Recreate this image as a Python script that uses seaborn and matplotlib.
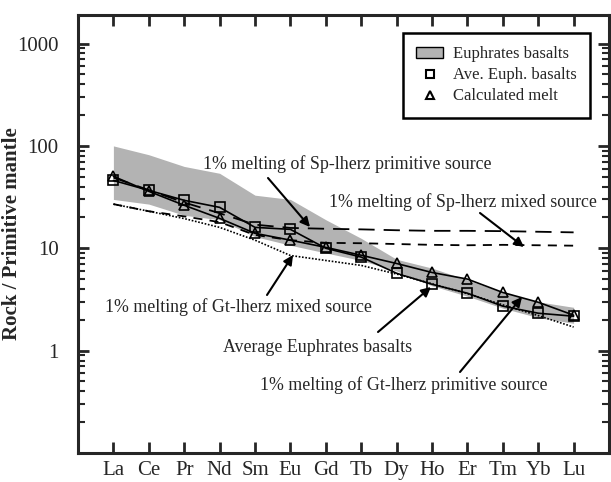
import numpy as np
import pandas as pd
import matplotlib
matplotlib.use("Agg")
import matplotlib.pyplot as plt
from matplotlib.patches import Patch
from matplotlib.lines import Line2D
from matplotlib.ticker import LogLocator, NullFormatter, FixedLocator
import seaborn as sns

elements = ["La", "Ce", "Pr", "Nd", "Sm", "Eu", "Gd", "Tb", "Dy", "Ho", "Er", "Tm", "Yb", "Lu"]
band_upper = [100, 82, 63, 54, 33, 30, 19, 12.5, 7.8, 6.4, 4.9, 3.7, 3.0, 2.65]
band_lower = [30, 27, 21, 19, 13, 10.7, 9.0, 7.6, 6.0, 4.3, 3.4, 2.6, 2.1, 1.85]
ave_euph = [46, 36.8, 29.4, 25.1, 16.0, 15.3, 10.0, 8.2, 5.7, 4.45, 3.64, 2.72, 2.32, 2.17]
calc_melt = [50.4, 36, 26.3, 19.6, 14.0, 12.0, 10.2, 8.55, 7.1, 5.8, 5.0, 3.7, 2.97, 2.22]
sp_prim = [49, 37, 28, 22, 17, 15.8, 15.5, 15.3, 15.0, 14.8, 14.8, 14.7, 14.5, 14.3]
sp_mixed = [27, 23, 20.5, 18, 13.5, 12, 11.3, 11.2, 11.0, 10.8, 10.7, 10.8, 10.7, 10.6]
gt_mixed = [27, 23, 19.5, 16, 12, 8.5, 7.6, 6.8, 5.6, 4.5, 3.6, 2.8, 2.2, 1.7]

sns.set_theme(style="ticks")
plt.rcParams["font.family"] = ["Liberation Serif", "DejaVu Serif"]

x = np.arange(1, len(elements) + 1)

fig = plt.figure(figsize=(6.11, 4.82), dpi=100)
ax = fig.add_axes([78 / 611, 1 - 453 / 482, (609 - 78) / 611, (453 - 15) / 482])

ax.fill_between(x, band_lower, band_upper, color="#b3b3b3", linewidth=0, zorder=1)

sns.lineplot(x=x, y=sp_prim, ax=ax, color="black", linewidth=1.3, zorder=2,
             legend=False).lines[-1].set_dashes([9, 5])
sns.lineplot(x=x, y=sp_mixed, ax=ax, color="black", linewidth=1.3, zorder=2,
             legend=False).lines[-1].set_dashes([5, 4])
sns.lineplot(x=x, y=gt_mixed, ax=ax, color="black", linewidth=1.2, zorder=2,
             legend=False).lines[-1].set_dashes([1, 1])

sns.lineplot(x=x, y=ave_euph, ax=ax, color="black", linewidth=1.2, marker="s", markersize=7,
             markerfacecolor="none", markeredgecolor="black", markeredgewidth=1.2, zorder=3)
sns.lineplot(x=x, y=calc_melt, ax=ax, color="black", linewidth=1.2, marker="^", markersize=7,
             markerfacecolor="none", markeredgecolor="black", markeredgewidth=1.2, zorder=3)

ax.set_yscale("log")
ax.set_ylim(0.1, 1900)
ax.set_xlim(0, 15)
ax.set_xticks(x)
ax.set_xticklabels(elements, fontsize=15)
ax.yaxis.set_major_locator(FixedLocator([1, 10, 100, 1000]))
ax.set_yticklabels(["1", "10", "100", "1000"], fontsize=15)
ax.yaxis.set_minor_locator(LogLocator(base=10, subs=np.arange(2, 10)))
ax.yaxis.set_minor_formatter(NullFormatter())
ax.tick_params(axis="x", which="major", direction="in", length=8, width=2,
               top=True, bottom=True, pad=6)
ax.tick_params(axis="y", which="major", direction="in", length=8, width=2,
               left=True, right=True, pad=14)
ax.tick_params(axis="y", which="minor", direction="in", length=5, width=1.5, right=True)
ax.tick_params(axis="x", which="minor", bottom=False, top=False)
for sp in ax.spines.values():
    sp.set_linewidth(2.2)
    sp.set_visible(True)
ax.set_xlabel("")
ax.set_ylabel("Rock / Primitive mantle", fontsize=15, fontweight="bold")
ax.yaxis.set_label_coords((22 - 78) / 531, 0.5)

ann_kw = dict(xycoords="figure fraction", textcoords="figure fraction",
              arrowprops=dict(arrowstyle="-|>", color="black", lw=1.5, mutation_scale=14,
                              shrinkA=0, shrinkB=0))

def annot(text, tx, ty, ax0, ay0, hx, hy):
    ax.text(tx / 611, 1 - ty / 482, text, transform=fig.transFigure, fontsize=12.85,
            ha="left", va="center")
    ax.annotate("", xy=(hx / 611, 1 - hy / 482), xytext=(ax0 / 611, 1 - ay0 / 482), **ann_kw)

annot("1% melting of Sp-lherz primitive source", 203, 164, 268, 178, 310, 227)
annot("1% melting of Sp-lherz mixed source", 329, 202, 480, 213, 524, 247)
annot("1% melting of Gt-lherz mixed source", 105, 307, 267, 295, 293, 255)
annot("Average Euphrates basalts", 223, 348, 378, 332, 431, 287)
annot("1% melting of Gt-lherz primitive source", 260, 385, 460, 372, 522, 297)

handles = [Patch(facecolor="#b3b3b3", edgecolor="black", linewidth=1.0),
           Line2D([], [], linestyle="none", marker="s", markersize=6, markerfacecolor="none",
                  markeredgecolor="black", markeredgewidth=1.5),
           Line2D([], [], linestyle="none", marker="^", markersize=6, markerfacecolor="none",
                  markeredgecolor="black", markeredgewidth=1.5)]
labels = ["Euphrates basalts", "Ave. Euph. basalts", "Calculated melt"]
leg = ax.legend(handles, labels, loc="upper right", bbox_to_anchor=(590 / 611, 1 - 33 / 482),
                bbox_transform=fig.transFigure, borderaxespad=0, fontsize=12, frameon=True,
                fancybox=False, edgecolor="black", framealpha=1, borderpad=0.8,
                handlelength=1.6, handletextpad=0.6, labelspacing=0.3)
leg.get_frame().set_linewidth(1.8)

fig.savefig("out.png", dpi=100)
